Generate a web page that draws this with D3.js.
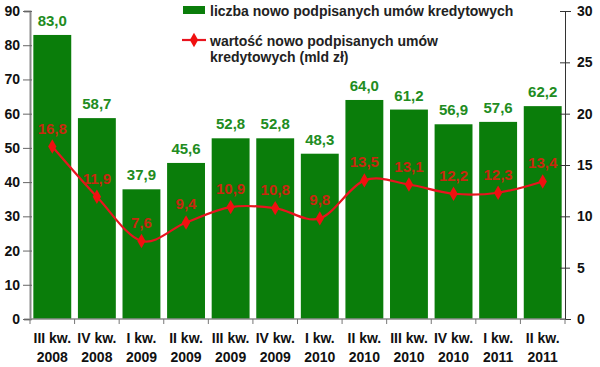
<!DOCTYPE html>
<html>
<head>
<meta charset="utf-8">
<script src="https://cdn.jsdelivr.net/npm/d3@7"></script>
<style>
  body { margin: 0; background: #fff; }
  svg { display: block; font-family: "Liberation Sans", Arial, sans-serif; font-weight: bold; }
</style>
</head>
<body>
<svg class="svg"></svg>
<script>
// data
var quarters = ['III kw.', 'IV kw.', 'I kw.', 'II kw.', 'III kw.', 'IV kw.', 'I kw.', 'II kw.', 'III kw.', 'IV kw.', 'I kw.', 'II kw.'];
var years = ['2008', '2008', '2009', '2009', '2009', '2009', '2010', '2010', '2010', '2010', '2011', '2011'];
var contracts = [83.0, 58.7, 37.9, 45.6, 52.8, 52.8, 48.3, 64.0, 61.2, 56.9, 57.6, 62.2];
var valueBn = [16.8, 11.9, 7.6, 9.4, 10.9, 10.8, 9.8, 13.5, 13.1, 12.2, 12.3, 13.4];
var leftTicks = [0, 10, 20, 30, 40, 50, 60, 70, 80, 90];
var rightTicks = [0, 5, 10, 15, 20, 25, 30];

var margin = { top: 11, right: 35, bottom: 48, left: 30 },
    width = 600 - margin.left - margin.right,
    height = 367 - margin.top - margin.bottom;

var fmt = function(v) { return v.toFixed(1).replace('.', ','); };

var data = quarters.map(function(q, i) {
  return { i: i, q: q, year: years[i], bar: contracts[i], val: valueBn[i] };
});

var x = d3.scaleBand()
  .domain(data.map(function(d) { return d.i; }))
  .range([0, width])
  .paddingInner(0.15)
  .paddingOuter(0.075);

var y = d3.scaleLinear().domain([0, 90]).range([height, 0]);
var y2 = d3.scaleLinear().domain([0, 30]).range([height, 0]);

var svg = d3.select('.svg')
  .attr('width', 600)
  .attr('height', 367)
  .append('g')
  .attr('transform', 'translate(' + margin.left + ',' + margin.top + ')');

// bars
svg.selectAll('rect.bar')
  .data(data)
  .enter()
  .append('rect')
  .attr('class', 'bar')
  .attr('x', function(d) { return x(d.i); })
  .attr('y', function(d) { return y(d.bar); })
  .attr('width', x.bandwidth())
  .attr('height', function(d) { return height - y(d.bar); })
  .attr('fill', '#0a7d0a');

svg.selectAll('text.barlabel')
  .data(data)
  .enter()
  .append('text')
  .attr('class', 'barlabel')
  .attr('x', function(d) { return x(d.i) + x.bandwidth() / 2; })
  .attr('y', function(d) { return y(d.bar) - 9; })
  .attr('text-anchor', 'middle')
  .attr('font-size', '15px')
  .attr('fill', '#218c21')
  .text(function(d) { return fmt(d.bar); });

// left axis
var yAxis = d3.axisLeft(y).tickValues(leftTicks).tickSize(6).tickPadding(4).tickFormat(d3.format('d'));
var gy = svg.append('g').call(yAxis);
gy.select('.domain').attr('stroke', '#8a8a8a').attr('stroke-width', 2);
gy.selectAll('.tick line').attr('stroke', '#666').attr('x2', -7).attr('x1', 2);
gy.selectAll('.tick text').attr('font-size', '14px').attr('fill', '#111');

// right axis
var yAxis2 = d3.axisRight(y2).tickValues(rightTicks).tickSize(6).tickPadding(6);
var gy2 = svg.append('g').attr('transform', 'translate(' + width + ',0)').call(yAxis2);
gy2.select('.domain').attr('stroke', '#333');
gy2.selectAll('.tick line').attr('stroke', '#333').attr('x1', -5).attr('x2', 5);
gy2.selectAll('.tick text').attr('font-size', '14px').attr('fill', '#111');

// bottom axis
var gx = svg.append('g').attr('transform', 'translate(0,' + height + ')');
gx.append('line').attr('x1', 0).attr('x2', width).attr('stroke', '#8a8a8a').attr('stroke-width', 1.5);
var step = x.step();
gx.selectAll('line.tk')
  .data(d3.range(quarters.length + 1))
  .enter()
  .append('line')
  .attr('class', 'tk')
  .attr('x1', function(k) { return x(0) - x.paddingInner() * step / 2 + k * step; })
  .attr('x2', function(k) { return x(0) - x.paddingInner() * step / 2 + k * step; })
  .attr('y1', 0)
  .attr('y2', 5)
  .attr('stroke', '#777');

var xl = gx.selectAll('text.xl')
  .data(data)
  .enter()
  .append('text')
  .attr('class', 'xl')
  .attr('text-anchor', 'middle')
  .attr('font-size', '14px')
  .attr('fill', '#111')
  .attr('transform', function(d) { return 'translate(' + (x(d.i) + x.bandwidth() / 2) + ',0)'; });
xl.append('tspan').attr('x', 0).attr('y', 24).text(function(d) { return d.q; });
xl.append('tspan').attr('x', 0).attr('y', 43).text(function(d) { return d.year; });

// line (smoothed like the original)
var line = d3.line()
  .x(function(d) { return x(d.i) + x.bandwidth() / 2; })
  .y(function(d) { return y2(d.val); })
  .curve(d3.curveCatmullRom.alpha(0));

svg.append('path')
  .datum(data)
  .attr('d', line)
  .attr('fill', 'none')
  .attr('stroke', '#e8141e')
  .attr('stroke-width', 2.2);

var diamond = d3.symbol().type(d3.symbolDiamond).size(60);
svg.selectAll('path.pt')
  .data(data)
  .enter()
  .append('path')
  .attr('class', 'pt')
  .attr('d', diamond)
  .attr('transform', function(d) { return 'translate(' + (x(d.i) + x.bandwidth() / 2) + ',' + y2(d.val) + ')'; })
  .attr('fill', '#f01010');

svg.selectAll('text.vallabel')
  .data(data)
  .enter()
  .append('text')
  .attr('class', 'vallabel')
  .attr('x', function(d) { return x(d.i) + x.bandwidth() / 2; })
  .attr('y', function(d) { return y2(d.val) - 13; })
  .attr('text-anchor', 'middle')
  .attr('font-size', '15px')
  .attr('fill', '#c8280e')
  .text(function(d) { return fmt(d.val); });

// legend
var lg = d3.select('.svg').append('g');
lg.append('rect').attr('x', 183).attr('y', 6).attr('width', 22).attr('height', 8).attr('fill', '#0a7d0a');
lg.append('text').attr('x', 210).attr('y', 16).attr('font-size', '14px').attr('fill', '#222')
  .text('liczba nowo podpisanych umów kredytowych');
lg.append('line').attr('x1', 182).attr('x2', 206).attr('y1', 40).attr('y2', 40)
  .attr('stroke', '#e8141e').attr('stroke-width', 2.2);
lg.append('path').attr('d', diamond).attr('transform', 'translate(194,40)').attr('fill', '#f01010');
var lt = lg.append('text').attr('font-size', '14px').attr('fill', '#222');
lt.append('tspan').attr('x', 210).attr('y', 46).text('wartość nowo podpisanych umów');
lt.append('tspan').attr('x', 210).attr('y', 62).text('kredytowych (mld zł)');
</script>
</body>
</html>
